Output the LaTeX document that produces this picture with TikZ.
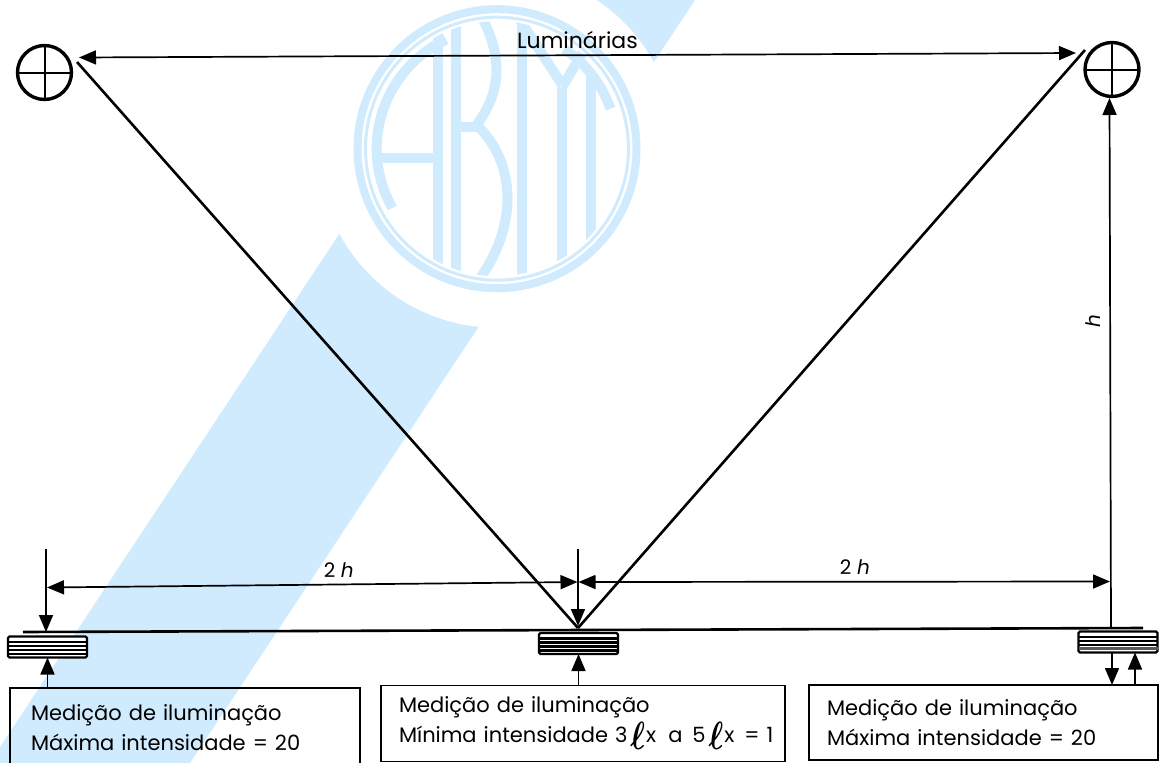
\documentclass[tikz,border=0pt]{standalone}
\usepackage{fontspec}
\setmainfont{Poppins}
\usetikzlibrary{arrows.meta}
\definecolor{abntblue}{HTML}{CFEBFD}
\newcommand{\lsym}{\raisebox{-7pt}{\scalebox{1.5}[1.9]{\boldmath$\ell$}}}
\tikzset{
	thinline/.style={line width=1.7pt},
	diagline/.style={line width=2.6pt},
	tipped/.style={thinline, >={Triangle[length=17pt,width=14pt]}},
	lamp/.style={circle, draw, line width=3.4pt, minimum size=54pt, inner sep=0pt, outer sep=0pt,
		path picture={
			\draw[line width=2pt] (path picture bounding box.north) -- (path picture bounding box.south);
			\draw[line width=2pt] (path picture bounding box.west) -- (path picture bounding box.east);
		}},
	sensor/.style={draw, fill=white, line width=2.4pt, rounded corners=1.5pt, minimum width=79pt, minimum height=21pt, inner sep=0pt, outer sep=0pt,
		path picture={
			\foreach \sy in {-7,-3,1,5}
				\draw[line width=2.3pt] ([yshift=\sy pt]path picture bounding box.west) -- ([yshift=\sy pt]path picture bounding box.east);
		}},
	mbox/.style={draw, thinline, inner ysep=0pt, outer sep=0pt, align=left, font=\fontsize{21}{30}\selectfont},
	dimlabel/.style={font=\fontsize{20}{24}\selectfont, inner sep=0pt},
	logoline/.style={abntblue, line width=10pt},
}
\begin{document}
\begin{tikzpicture}[x=1pt, y=-1pt]
	\path[use as bounding box, clip] (0,0) rectangle (1160,763);
	% watermark
	\fill[abntblue] (494,0) -- (695,0) -- (190,763) -- (0,763) -- (0,747) -- cycle;
	\fill[white] (497,148.7) circle[radius=179pt];
	\draw[abntblue, line width=8pt] (497,148.7) circle[radius=139.5pt];
	\draw[abntblue, line width=3pt] (497,148.7) circle[radius=131.5pt];
	\begin{scope}
		\clip (497,148.7) circle[radius=127.5pt];
		\begin{scope}[shift={(340,0)}, x=0.3333pt, y=-0.3333pt]
			% A
			\draw[logoline] (293,60) -- (293,840);
			\draw[logoline] (125,475) -- (293,475);
			\draw[logoline] (471,446) ++(209.5:120.3pt) arc[start angle=209.5, end angle=115, radius=120.3pt];
			% B
			\draw[logoline] (347.5,30) -- (347.5,860);
			\draw[logoline] (347.5,380) -- (425,380);
			\draw[logoline] (430,60) .. controls (490,180) and (480,280) .. (410,375);
			\draw[logoline] (420,385) .. controls (530,500) and (530,680) .. (420,835);
			% N
			\draw[logoline] (547,30) -- (547,860);
			\draw[logoline] (667,260) -- (667,860);
			\draw[logoline] (540,60) -- (667,255);
			\draw[logoline] (667,260) -- (745,130);
			% T
			\draw[logoline] (753,215) -- (753,860);
			\draw[logoline] (471,446) ++(56:120.3pt) arc[start angle=56, end angle=19.4, radius=120.3pt];
		\end{scope}
	\end{scope}
	% lamps and sensors
	\node[lamp] (lampL) at (44.5,72.5) {};
	\node[lamp] (lampR) at (1112,69.5) {};
	\node[sensor] (sensorL) at (47.5,647) {};
	\node[sensor] (sensorM) at (578.5,643.5) {};
	\node[sensor] (sensorR) at (1118,642) {};
	\draw[line width=3pt, black!65] ([yshift=4pt]sensorR.south west) -- ([yshift=4pt]sensorR.south east);
	\node[mbox, inner xsep=21pt, text width=308pt, minimum height=80pt] (boxL) at (185,728) {Medição de iluminação\\Máxima intensidade = 20};
	\node[mbox, inner xsep=18pt, text width=368pt, minimum height=76pt] (boxM) at (583,723.5) {Medição de iluminação\\\mbox{Mínima intensidade 3\hspace{3pt}\lsym\hspace{1pt}x\hspace{5pt} a \hspace{3pt}5\hspace{3pt}\lsym\hspace{1pt}x\hspace{3pt} = 1}};
	\node[mbox, inner xsep=18pt, text width=313pt, minimum height=75pt] (boxR) at (983.5,722.5) {Medição de iluminação\\Máxima intensidade = 20};
	\coordinate (lumL) at (79,57.5);
	\coordinate (lumR) at (1076,53);
	\coordinate (diagL) at (77,62);
	\coordinate (diagR) at (1085,50);
	\coordinate (apexM) at (578,628);
	\coordinate (baseA) at (23,632);
	\coordinate (baseB) at (1143,628);
	\coordinate (baseL) at (46,632);
	\coordinate (baseM) at (578,626);
	\coordinate (baseR) at (1111,627);
	\coordinate (lampTip) at (1109.5,98);
	\coordinate (tickL) at (46,549);
	\coordinate (tickM) at (578,549);
	\coordinate (dimL) at (47,587.5);
	\coordinate (dimML) at (577.5,582);
	\coordinate (dimMR) at (578.5,582);
	\coordinate (dimR) at (1110,581.5);
	\draw[diagline] (diagL) -- (apexM);
	\draw[diagline] (diagR) -- (apexM);
	\draw[diagline] (baseA) -- (baseB);
	\draw[tipped, <->] (lumL) -- node[above=6pt, dimlabel, font=\fontsize{22}{24}\selectfont, pos=0.5] (lumtext) {Luminárias} (lumR);
	\draw[tipped, <->] (dimL) -- node[above=6pt, dimlabel, pos=0.55] (labL) {2\;\textit{h}} (dimML);
	\draw[tipped, <->] (dimMR) -- node[above=6pt, dimlabel, pos=0.52] (labR) {2\;\textit{h}} (dimR);
	\draw[tipped, ->] (tickL) -- (baseL);
	\draw[tipped, ->] (tickM) -- (baseM);
	\draw[tipped, ->] (baseR) -- (lampTip);
	\draw[tipped, ->] (sensorL.south |- boxL.north) -- (sensorL.south);
	\draw[tipped, ->] (sensorM.south |- boxM.north) -- (sensorM.south);
	\draw[tipped, ->] ([xshift=-6pt]sensorR.south) -- ([xshift=-6pt]sensorR.south |- boxR.north);
	\draw[tipped, ->] ([xshift=17pt]sensorR.south |- boxR.north) -- ([xshift=17pt]sensorR.south);
	\node[dimlabel, rotate=90] (labh) at (1093,321) {\textit{h}};
\end{tikzpicture}
\end{document}
